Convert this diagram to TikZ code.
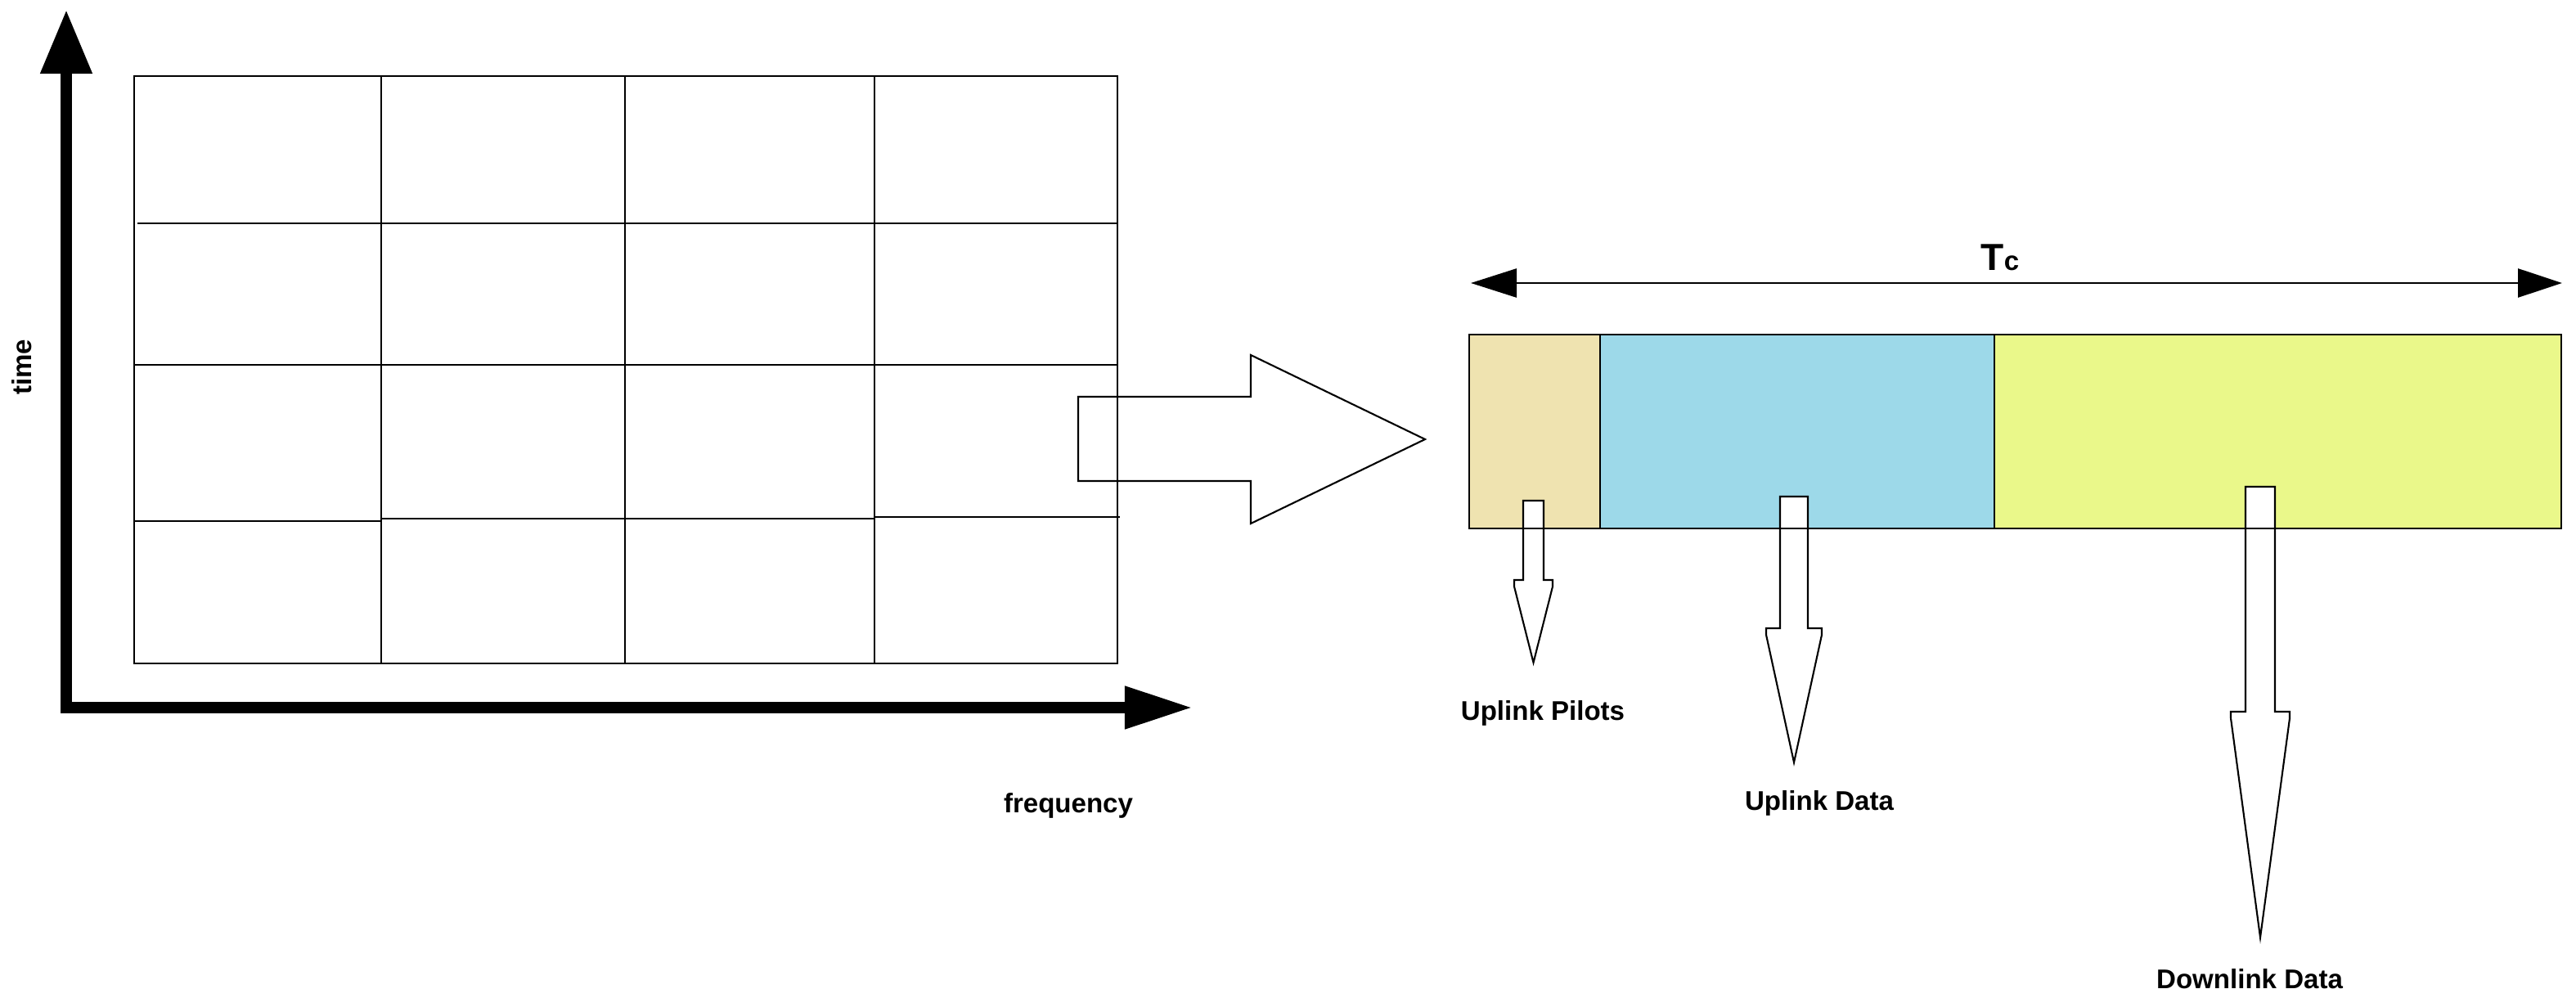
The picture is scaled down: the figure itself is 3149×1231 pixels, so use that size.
\documentclass[tikz,border=0pt]{standalone}
\usepackage{fontspec}
\setmainfont{Liberation Sans}
\usepackage{tikz}
\usetikzlibrary{arrows.meta}
\usepackage{xcolor}
\definecolor{ink}     {HTML}{000000}
\definecolor{pilotTan}{HTML}{EFE3B0}
\definecolor{ulBlue}  {HTML}{9DD9E9}
\definecolor{dlLime}  {HTML}{EAF88A}

\begin{document}
\begin{tikzpicture}[x=0.01cm, y=-0.01cm,
    gridline/.style={ink, line width=0.6pt},
    outline/.style={ink, line width=0.6pt, line join=miter},
    framebox/.style={ink, line width=0.75pt},
    hollow/.style={ink, fill=white, line width=0.6pt, line join=miter},
    lbl/.style={ink, font=\fontsize{9.4}{11}\selectfont\bfseries, inner sep=0pt}]
        \useasboundingbox (0,0) rectangle (3149,1231);
        \def\gl{164} \def\gr{1366} \def\gt{93} \def\gb{811}
        % grid of resource blocks
        \draw[gridline] (\gl,\gt) rectangle (\gr,\gb);
        \foreach \cx in {466,764,1069}
          \draw[gridline] (\cx,\gt) -- (\cx,\gb);
        \draw[gridline] (168,273) -- (\gr,273);
        \draw[gridline] (\gl,446) -- (\gr,446);
        \draw[gridline] (\gl,637) -- (466,637);
        \draw[gridline] (466,634) -- (1069,634);
        \draw[gridline] (1069,632) -- (1369,632);
        % axes
        \draw[ink, line width=4pt, line join=miter,
              {Triangle[length=7.8mm,width=6mm]}-{Triangle[length=8.3mm,width=4.9mm]}]
          (81,12) -- (81,865) -- (1458,865);
        % zoom arrow (hollow)
        \draw[outline] (1318,485) -- (1529,485) -- (1529,434) -- (1742,537)
          -- (1529,640) -- (1529,588) -- (1318,588) -- cycle;
        % coherence block
        \def\fl{1796} \def\fa{1956} \def\fb{2438} \def\fr{3131} \def\ft{409} \def\fbot{646}
        \fill[pilotTan] (\fl,\ft) rectangle (\fa,\fbot);
        \fill[ulBlue]   (\fa,\ft) rectangle (\fb,\fbot);
        \fill[dlLime]   (\fb,\ft) rectangle (\fr,\fbot);
        % down arrows: shaft left/right, overhang, top, shoulder, tip
        \foreach \xa/\xb/\hw/\yt/\ys/\yp [count=\i] in
            {1862/1887/11/612/709/810, 2176/2210/17/607/768/932, 2745/2781/18/595/870/1146} {
          \draw[hollow] (\xa,\yt) -- (\xb,\yt) -- (\xb,\ys) -- ({\xb+\hw},\ys)
            -- ({\xb+\hw},{\ys+8}) -- ({(\xa+\xb)/2},\yp) -- ({\xa-\hw},{\ys+8})
            -- ({\xa-\hw},\ys) -- (\xa,\ys) -- cycle;
          \coordinate (tip\i) at ({(\xa+\xb)/2},\yp);
        }
        \draw[framebox] (\fl,\ft) rectangle (\fr,\fbot);
        \draw[framebox] (\fa,\ft) -- (\fa,\fbot);
        \draw[framebox] (\fb,\ft) -- (\fb,\fbot);
        % coherence interval
        \coordinate (tcL) at (1798,346);
        \coordinate (tcR) at (3132,346);
        \draw[ink, line width=0.8pt,
              {Triangle[length=5.6mm,width=3.5mm]}-{Triangle[length=5.4mm,width=3.5mm]}]
          (tcL) -- (tcR);
        % labels
        \node[ink, anchor=base, inner sep=0pt] (tclbl) at (2445,331)
          {\bfseries\fontsize{13.1}{15}\selectfont T\fontsize{9.4}{11}\selectfont c};
        \node[lbl, anchor=base] (pilotlbl)  at (1886,880)  {Uplink Pilots};
        \node[lbl, anchor=base] (uldatalbl) at (2224,990)  {Uplink Data};
        \node[lbl, anchor=base] (dldatalbl) at (2750,1208) {Downlink Data};
        \node[lbl, anchor=base] (freqlbl)   at (1306,993)  {frequency};
        \node[lbl, anchor=base, rotate=90] (timelbl) at (38,449) {time};
      \end{tikzpicture}
\end{document}
